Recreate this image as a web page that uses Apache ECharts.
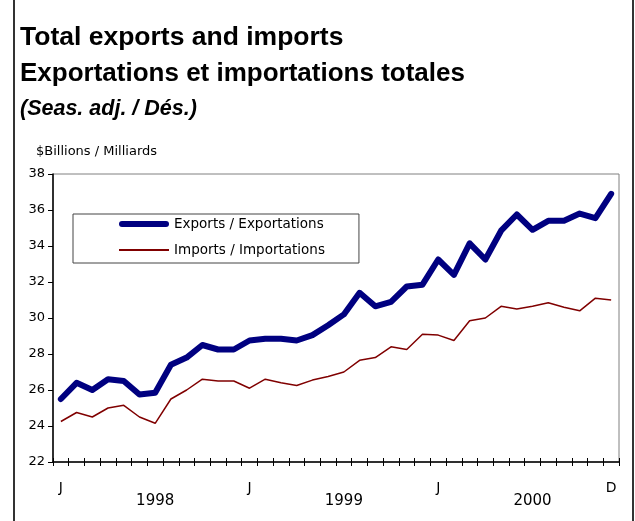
<!DOCTYPE html>
<html>
<head>
<meta charset="utf-8">
<script src="https://cdn.jsdelivr.net/npm/echarts@6/dist/echarts.min.js"></script>
<style>
  html, body { margin: 0; padding: 0; background: #fff; }
  #chart { width: 635px; height: 521px; }
</style>
</head>
<body>
<div id="chart"></div>
<script>
// monthly, seasonally adjusted, $ billions
var years = ['1998', '1999', '2000'];
var monthNames = ['Jan', 'Feb', 'Mar', 'Apr', 'May', 'Jun', 'Jul', 'Aug', 'Sep', 'Oct', 'Nov', 'Dec'];
var exportsData = [
    25.5, 26.4, 26.0, 26.6, 26.5, 25.75, 25.85, 27.4, 27.8, 28.5, 28.25, 28.25,
    28.75, 28.85, 28.85, 28.75, 29.05, 29.6, 30.2, 31.4, 30.65, 30.9, 31.75, 31.85,
    33.25, 32.4, 34.15, 33.25, 34.85, 35.75, 34.9, 35.4, 35.4, 35.8, 35.55, 36.9
];
var importsData = [
    24.25, 24.75, 24.5, 25.0, 25.15, 24.5, 24.15, 25.5, 26.0, 26.6, 26.5, 26.5,
    26.1, 26.6, 26.4, 26.25, 26.55, 26.75, 27.0, 27.65, 27.8, 28.4, 28.25, 29.1,
    29.05, 28.75, 29.85, 30.0, 30.65, 30.5, 30.65, 30.85, 30.6, 30.4, 31.1, 31.0
];
var monthTicks = { 0: 'J', 12: 'J', 24: 'J', 35: 'D' };
var yearTicks = { 6: '1998', 18: '1999', 30: '2000' };
var yTicks = { min: 22, max: 38, step: 2 };

var categories = [];
for (var y = 0; y < years.length; y++) {
    for (var m = 0; m < monthNames.length; m++) {
        categories.push(monthNames[m] + ' ' + years[y]);
    }
}

var font = 'DejaVu Sans';
var chart = echarts.init(document.getElementById('chart'));
var options = {
    animation: false,
    backgroundColor: '#fff',
    textStyle: { fontFamily: font },
    graphic: [
        { type: 'rect', shape: { x: 13, y: -5, width: 2, height: 540 }, style: { fill: '#333' } },
        { type: 'rect', shape: { x: 632, y: -5, width: 2, height: 540 }, style: { fill: '#333' } },
        {
            type: 'text', left: 20, top: 24,
            style: { text: 'Total exports and imports', font: 'bold 26.5px "Liberation Sans"', fill: '#000' }
        },
        {
            type: 'text', left: 20, top: 61,
            style: { text: 'Exportations et importations totales', font: 'bold 26px "Liberation Sans"', fill: '#000' }
        },
        {
            type: 'text', left: 20, top: 98,
            style: { text: '(Seas. adj. / Dés.)', font: 'italic bold 21.5px "Liberation Sans"', fill: '#000' }
        },
        {
            type: 'text', left: 36, top: 145,
            style: { text: '$Billions / Milliards', font: '13px "DejaVu Sans"', fill: '#000' }
        }
    ],
    legend: {
        orient: 'vertical',
        left: 73,
        top: 214,
        backgroundColor: '#fff',
        borderColor: '#444',
        borderWidth: 1,
        padding: [3, 34, 6, 46],
        itemWidth: 50,
        itemHeight: 14,
        itemGap: 12,
        symbolKeepAspect: true,
        textStyle: { fontSize: 13.5, color: '#000', fontFamily: font },
        data: [
            { name: 'Exports / Exportations', icon: 'path://M3,0 L47,0 A3,3 0 0 1 47,6 L3,6 A3,3 0 0 1 3,0 Z' },
            { name: 'Imports / Importations', icon: 'path://M0,0 L50,0 L50,2 L0,2 Z' }
        ]
    },
    grid: {
        left: 53,
        right: 16,
        top: 174,
        bottom: 59,
        show: true,
        borderColor: '#808080',
        borderWidth: 1
    },
    xAxis: [
        {
            type: 'category',
            data: categories,
            boundaryGap: true,
            axisLine: { lineStyle: { color: '#000', width: 1.5 } },
            axisTick: { show: true, interval: 0, length: 4, lineStyle: { color: '#000' } },
            axisLabel: {
                interval: 0,
                margin: 19,
                fontSize: 14,
                color: '#000',
                formatter: function (val, idx) {
                    return monthTicks[idx] || '';
                }
            },
            splitLine: { show: false }
        },
        {
            type: 'category',
            data: categories,
            position: 'bottom',
            boundaryGap: true,
            axisLine: { show: false },
            axisTick: { show: true, inside: true, interval: 0, length: 4, lineStyle: { color: '#000' } },
            axisLabel: {
                interval: 0,
                margin: 32,
                fontSize: 15,
                color: '#000',
                formatter: function (val, idx) {
                    return yearTicks[idx] || '';
                }
            },
            splitLine: { show: false }
        }
    ],
    yAxis: {
        type: 'value',
        min: yTicks.min,
        max: yTicks.max,
        interval: yTicks.step,
        axisLine: { show: true, lineStyle: { color: '#000', width: 1.5 } },
        axisTick: { show: true, length: 5, lineStyle: { color: '#000' } },
        axisLabel: { fontSize: 13, color: '#000', margin: 8 },
        splitLine: { show: false }
    },
    series: [
        {
            name: 'Exports / Exportations',
            type: 'line',
            data: exportsData,
            symbol: 'none',
            lineStyle: { color: '#000080', width: 6, join: 'round', cap: 'round' },
            itemStyle: { color: '#000080' }
        },
        {
            name: 'Imports / Importations',
            type: 'line',
            data: importsData,
            symbol: 'none',
            lineStyle: { color: '#800000', width: 1.5 },
            itemStyle: { color: '#800000' }
        }
    ]
};
chart.setOption(options, true);
</script>
</body>
</html>
